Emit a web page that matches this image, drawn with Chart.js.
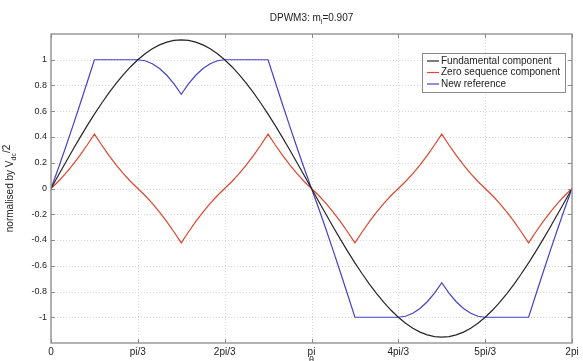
<!DOCTYPE html>
<html>
<head>
<meta charset="utf-8">
<script src="https://cdn.jsdelivr.net/npm/chart.js@4.4.1/dist/chart.umd.min.js"></script>
<style>
  html, body { margin: 0; padding: 0; background: #fff; }
  #wrap { width: 583px; height: 361px; position: relative; }
</style>
</head>
<body>
<div id="wrap"><canvas id="c" width="583" height="361"></canvas></div>
<script>
// ---------- data ----------
const angles = [0,5,10,15,20,25,30,35,40,45,50,55,60,65,70,75,80,85,90,95,100,105,110,115,120,125,130,135,140,145,150,155,160,165,170,175,180,
  185,190,195,200,205,210,215,220,225,230,235,240,245,250,255,260,265,270,275,280,285,290,295,300,305,310,315,320,325,330,335,340,345,350,355,360];

const fundamental = [0,0.1006,0.2005,0.2989,0.3949,0.4880,0.5774,0.6623,0.7422,0.8165,0.8845,0.9459,1.0000,1.0465,1.0851,1.1154,1.1372,1.1503,1.1547,
  1.1503,1.1372,1.1154,1.0851,1.0465,1.0000,0.9459,0.8845,0.8165,0.7422,0.6623,0.5774,0.4880,0.3949,0.2989,0.2005,0.1006,0,
  -0.1006,-0.2005,-0.2989,-0.3949,-0.4880,-0.5774,-0.6623,-0.7422,-0.8165,-0.8845,-0.9459,-1.0000,-1.0465,-1.0851,-1.1154,-1.1372,-1.1503,-1.1547,
  -1.1503,-1.1372,-1.1154,-1.0851,-1.0465,-1.0000,-0.9459,-0.8845,-0.8165,-0.7422,-0.6623,-0.5774,-0.4880,-0.3949,-0.2989,-0.2005,-0.1006,0];

const zeroSequence = [0,0.0542,0.1155,0.1835,0.2578,0.3377,0.4226,0.3377,0.2578,0.1835,0.1155,0.0542,0,
  -0.0542,-0.1155,-0.1835,-0.2578,-0.3377,-0.4226,-0.3377,-0.2578,-0.1835,-0.1155,-0.0542,0,
  0.0542,0.1155,0.1835,0.2578,0.3377,0.4226,0.3377,0.2578,0.1835,0.1155,0.0542,0,
  -0.0542,-0.1155,-0.1835,-0.2578,-0.3377,-0.4226,-0.3377,-0.2578,-0.1835,-0.1155,-0.0542,0,
  0.0542,0.1155,0.1835,0.2578,0.3377,0.4226,0.3377,0.2578,0.1835,0.1155,0.0542,0,
  -0.0542,-0.1155,-0.1835,-0.2578,-0.3377,-0.4226,-0.3377,-0.2578,-0.1835,-0.1155,-0.0542,0];

const newReference = [0,0.1548,0.3160,0.4824,0.6527,0.8257,1,1,1,1,1,1,1,
  0.9924,0.9696,0.9319,0.8794,0.8126,0.7321,0.8126,0.8794,0.9319,0.9696,0.9924,
  1,1,1,1,1,1,1,0.8257,0.6527,0.4824,0.3160,0.1548,0,
  -0.1548,-0.3160,-0.4824,-0.6527,-0.8257,-1,-1,-1,-1,-1,-1,-1,
  -0.9924,-0.9696,-0.9319,-0.8794,-0.8126,-0.7321,-0.8126,-0.8794,-0.9319,-0.9696,-0.9924,
  -1,-1,-1,-1,-1,-1,-1,-0.8257,-0.6527,-0.4824,-0.3160,-0.1548,0];

const seriesLabels = ['Fundamental component', 'Zero sequence component', 'New reference'];
const xTickValues = [0,60,120,180,240,300,360];
const xTickLabels = ['0','pi/3','2pi/3','pi','4pi/3','5pi/3','2pi'];
const yTickValues = [-1,-0.8,-0.6,-0.4,-0.2,0,0.2,0.4,0.6,0.8,1];
const yTickLabels = ['-1','-0.8','-0.6','-0.4','-0.2','0','0.2','0.4','0.6','0.8','1'];
const titleParts = ['DPWM3: m', 'i', '=0.907'];
const yTitleParts = ['normalised by V', 'dc', '/2'];
const xTitle = '\u03b8';

// ---------- styling ----------
const FONT = "'Liberation Sans', Arial, sans-serif";
const colors = ['#262626', '#e0452f', '#4343c6'];

function pts(ys) { return angles.map((a, i) => ({ x: a, y: ys[i] })); }

const decorPlugin = {
  id: 'decor',
  beforeDatasetsDraw(chart) {
    const { ctx, chartArea: a, scales: { x, y } } = chart;
    ctx.save();
    ctx.strokeStyle = '#d6d6d6';
    ctx.lineWidth = 1;
    ctx.setLineDash([1, 2]);
    xTickValues.forEach(v => {
      const px = Math.round(x.getPixelForValue(v)) + 0.5;
      ctx.beginPath(); ctx.moveTo(px, a.top); ctx.lineTo(px, a.bottom); ctx.stroke();
    });
    yTickValues.forEach(v => {
      const py = Math.round(y.getPixelForValue(v)) + 0.5;
      ctx.beginPath(); ctx.moveTo(a.left, py); ctx.lineTo(a.right, py); ctx.stroke();
    });
    ctx.restore();
  },
  afterDatasetsDraw(chart) {
    const { ctx, chartArea: a, scales: { x, y } } = chart;
    ctx.save();
    // frame
    ctx.strokeStyle = '#8a8a8a';
    ctx.lineWidth = 1.3;
    ctx.strokeRect(a.left, a.top, a.right - a.left, a.bottom - a.top);
    // inward ticks
    ctx.lineWidth = 1;
    const tl = 4;
    xTickValues.forEach(v => {
      const px = Math.round(x.getPixelForValue(v)) + 0.5;
      ctx.beginPath();
      ctx.moveTo(px, a.bottom); ctx.lineTo(px, a.bottom - tl);
      ctx.moveTo(px, a.top); ctx.lineTo(px, a.top + tl);
      ctx.stroke();
    });
    yTickValues.forEach(v => {
      const py = Math.round(y.getPixelForValue(v)) + 0.5;
      ctx.beginPath();
      ctx.moveTo(a.left, py); ctx.lineTo(a.left + tl, py);
      ctx.moveTo(a.right, py); ctx.lineTo(a.right - tl, py);
      ctx.stroke();
    });

    // title with subscript
    ctx.fillStyle = '#222';
    ctx.textBaseline = 'alphabetic';
    const f1 = '10px ' + FONT, f2 = '7px ' + FONT;
    ctx.font = f1; const w1 = ctx.measureText(titleParts[0]).width;
    ctx.font = f2; const w2 = ctx.measureText(titleParts[1]).width;
    ctx.font = f1; const w3 = ctx.measureText(titleParts[2]).width;
    const cx = (a.left + a.right) / 2;
    let tx = cx - (w1 + w2 + w3) / 2;
    const ty = 21;
    ctx.textAlign = 'left';
    ctx.font = f1; ctx.fillText(titleParts[0], tx, ty); tx += w1;
    ctx.font = f2; ctx.fillText(titleParts[1], tx, ty + 2.5); tx += w2;
    ctx.font = f1; ctx.fillText(titleParts[2], tx, ty);

    // y title (rotated) with subscript
    ctx.save();
    ctx.translate(13, (a.top + a.bottom) / 2);
    ctx.rotate(-Math.PI / 2);
    ctx.font = f1; const y1 = ctx.measureText(yTitleParts[0]).width;
    ctx.font = f2; const y2 = ctx.measureText(yTitleParts[1]).width;
    ctx.font = f1; const y3 = ctx.measureText(yTitleParts[2]).width;
    let yx = -(y1 + y2 + y3) / 2;
    ctx.font = f1; ctx.fillText(yTitleParts[0], yx, 0); yx += y1;
    ctx.font = f2; ctx.fillText(yTitleParts[1], yx, 2.5); yx += y2;
    ctx.font = f1; ctx.fillText(yTitleParts[2], yx, -3);
    ctx.restore();

    // x title (partly cut at bottom)
    ctx.font = '9px ' + FONT;
    ctx.textAlign = 'center';
    ctx.textBaseline = 'top';
    ctx.fillText(xTitle, cx, 356);

    // legend box
    const lx = 422.5, ly = 53.5, lw = 143, lh = 39;
    ctx.fillStyle = '#fff';
    ctx.fillRect(lx, ly, lw, lh);
    ctx.strokeStyle = '#8a8a8a';
    ctx.lineWidth = 1;
    ctx.strokeRect(lx, ly, lw, lh);
    const rows = [61, 72.5, 84];
    chart.data.datasets.forEach((ds, i) => {
      ctx.strokeStyle = ds.borderColor;
      ctx.lineWidth = 1.2;
      ctx.beginPath(); ctx.moveTo(427, rows[i]); ctx.lineTo(439, rows[i]); ctx.stroke();
      ctx.fillStyle = '#222';
      ctx.font = '10px ' + FONT;
      ctx.textAlign = 'left';
      ctx.textBaseline = 'middle';
      ctx.fillText(ds.label, 441, rows[i]);
    });
    ctx.restore();
  }
};

new Chart(document.getElementById('c'), {
  type: 'line',
  data: {
    datasets: [
      { label: seriesLabels[0], data: pts(fundamental), borderColor: colors[0], borderWidth: 1.2, pointRadius: 0, tension: 0, fill: false },
      { label: seriesLabels[1], data: pts(zeroSequence), borderColor: colors[1], borderWidth: 1.2, pointRadius: 0, tension: 0, fill: false },
      { label: seriesLabels[2], data: pts(newReference), borderColor: colors[2], borderWidth: 1.2, pointRadius: 0, tension: 0, fill: false }
    ]
  },
  options: {
    responsive: false,
    animation: false,
    layout: { padding: { left: 0, right: 11, top: 34, bottom: 0 } },
    plugins: { legend: { display: false }, title: { display: false }, tooltip: { enabled: false } },
    scales: {
      x: {
        type: 'linear', min: 0, max: 360,
        afterBuildTicks: s => { s.ticks = xTickValues.map(v => ({ value: v })); },
        afterFit: s => { s.height = 18; },
        ticks: { autoSkip: false, maxRotation: 0, padding: 3, color: '#222', font: { family: FONT, size: 10 },
          callback: (v, i) => xTickLabels[i] },
        grid: { display: false, drawTicks: false },
        border: { display: false }
      },
      y: {
        type: 'linear', min: -1.2, max: 1.2,
        afterBuildTicks: s => { s.ticks = yTickValues.map(v => ({ value: v })); },
        afterFit: s => { s.width = 51; },
        ticks: { autoSkip: false, padding: 4, color: '#222', font: { family: FONT, size: 9 },
          callback: (v, i) => yTickLabels[i] },
        grid: { display: false, drawTicks: false },
        border: { display: false }
      }
    }
  },
  plugins: [decorPlugin]
});
</script>
</body>
</html>
